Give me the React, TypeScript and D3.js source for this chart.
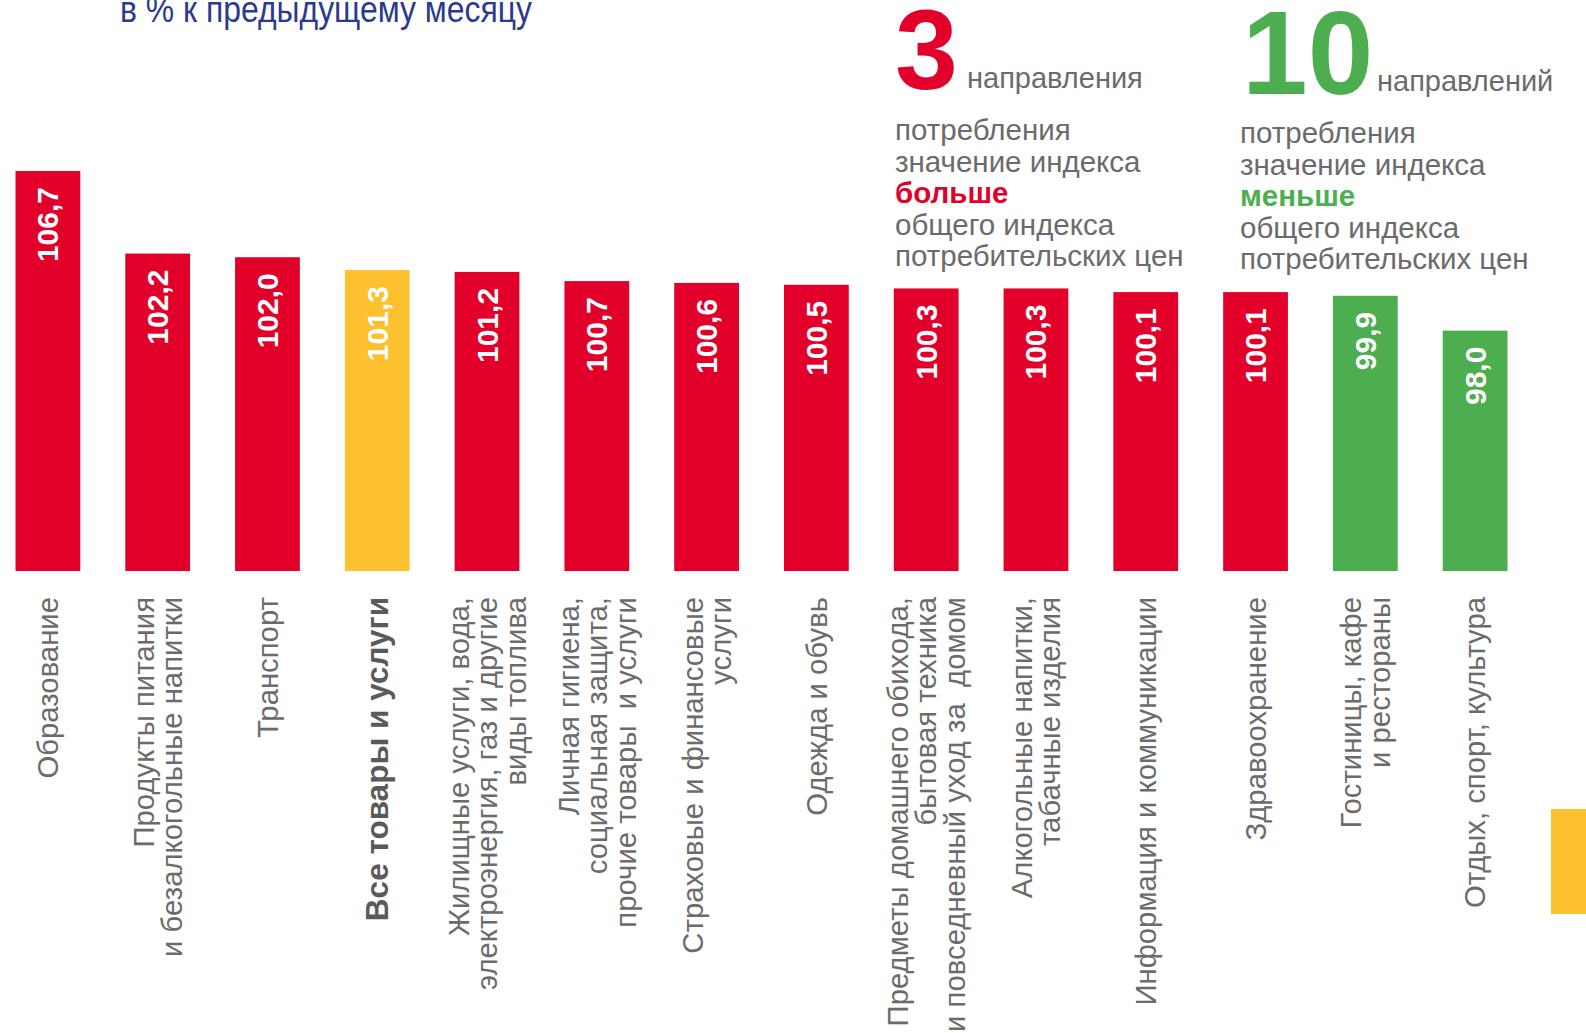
import React, { useEffect, useRef } from 'react';
import * as d3 from 'd3';

// категории (строки подписей), значения индекса и тип столбца
const categories = [
  ['Образование'],
  ['Продукты питания', 'и безалкогольные напитки'],
  ['Транспорт'],
  ['Все товары и услуги'],
  ['Жилищные услуги, вода,', 'электроэнергия, газ и другие', 'виды топлива'],
  ['Личная гигиена,', 'социальная защита,', 'прочие товары  и услуги'],
  ['Страховые и финансовые', 'услуги'],
  ['Одежда и обувь'],
  ['Предметы домашнего обихода,', 'бытовая техника', 'и повседневный уход за  домом'],
  ['Алкогольные напитки,', 'табачные изделия'],
  ['Информация и коммуникации'],
  ['Здравоохранение'],
  ['Гостиницы, кафе', 'и рестораны'],
  ['Отдых, спорт, культура'],
];
const values = [106.7, 102.2, 102.0, 101.3, 101.2, 100.7, 100.6, 100.5, 100.3, 100.3, 100.1, 100.1, 99.9, 98.0];
const kinds = ['up', 'up', 'up', 'total', 'up', 'up', 'up', 'up', 'up', 'up', 'up', 'up', 'down', 'down'];

const colors = { up: '#E2002B', total: '#FDC02E', down: '#4DAE50' };
const FONT = '"Liberation Sans", Arial, sans-serif';
const GRAY = '#6b6b6b';

const W = 1586;
const H = 1033;

export default function App() {
  const svgRef = useRef<SVGSVGElement>(null);

  useEffect(() => {
    const svg = d3.select(svgRef.current);
    svg.selectAll('*').remove();

    const keys = categories.map((_, i) => String(i));
    const x = d3.scaleBand().domain(keys).range([-7, 1530]).paddingInner(0.41).paddingOuter(0.205);
    const y = d3.scaleLinear().domain([84.9, 106.7]).range([571, 171]);

    // столбцы
    svg.append('g')
      .selectAll('rect')
      .data(values)
      .enter()
      .append('rect')
      .attr('x', (d, i) => x(String(i)))
      .attr('y', d => y(d))
      .attr('width', x.bandwidth())
      .attr('height', d => y.range()[0] - y(d))
      .attr('fill', (d, i) => colors[kinds[i]]);

    // значения внутри столбцов
    svg.append('g')
      .selectAll('text')
      .data(values)
      .enter()
      .append('text')
      .attr('transform', (d, i) => `translate(${x(String(i)) + x.bandwidth() / 2},${y(d) + 16}) rotate(-90)`)
      .attr('dy', '0.35em')
      .attr('text-anchor', 'end')
      .style('font-family', FONT)
      .style('font-weight', 'bold')
      .style('font-size', '30px')
      .style('fill', '#fff')
      .text(d => d.toFixed(1).replace('.', ','));

    // подписи категорий
    const labels = svg.append('g')
      .selectAll('text')
      .data(categories)
      .enter()
      .append('text')
      .attr('transform', (d, i) => `translate(${x(String(i)) + x.bandwidth() / 2},597) rotate(-90)`)
      .attr('text-anchor', 'end')
      .style('font-family', FONT)
      .style('font-size', (d, i) => kinds[i] === 'total' ? '31.5px' : '29.3px')
      .style('font-weight', (d, i) => kinds[i] === 'total' ? 'bold' : 'normal')
      .style('fill', (d, i) => kinds[i] === 'total' ? '#5a5a5a' : GRAY)
      .style('white-space', 'pre');

    labels.each(function (lines) {
      const t = d3.select(this);
      const lh = 28.5;
      lines.forEach((line, j) => {
        t.append('tspan')
          .attr('x', 0)
          .attr('y', (j - (lines.length - 1) / 2) * lh)
          .attr('dy', '0.35em')
          .text(line);
      });
    });

    // заголовок
    svg.append('text')
      .attr('x', 120)
      .attr('y', 22)
      .attr('textLength', 412)
      .attr('lengthAdjust', 'spacingAndGlyphs')
      .style('font-family', '"Liberation Sans Narrow", ' + FONT)
      .style('font-size', '37px')
      .style('fill', '#2B3990')
      .text('в % к предыдущему месяцу');

    // блоки пояснений справа
    const blocks = [
      { num: '3', numX: 895, numY: 89, numSize: 113, word: 'направления', wordX: 967, wordY: 88, x: 895, y0: 140, key: 'больше', color: colors.up },
      { num: '10', numX: 1242, numY: 94, numSize: 118, word: 'направлений', wordX: 1377, wordY: 91, x: 1240, y0: 143, key: 'меньше', color: colors.down },
    ];
    const blockLines = ['потребления', 'значение индекса', null, 'общего индекса', 'потребительских цен'];

    blocks.forEach(b => {
      const g = svg.append('g');
      g.append('text')
        .attr('x', b.numX)
        .attr('y', b.numY)
        .style('font-family', FONT)
        .style('font-weight', 'bold')
        .style('font-size', `${b.numSize}px`)
        .style('fill', b.color)
        .text(b.num);
      g.append('text')
        .attr('x', b.wordX)
        .attr('y', b.wordY)
        .style('font-family', FONT)
        .style('font-size', '29px')
        .style('fill', GRAY)
        .text(b.word);
      blockLines.forEach((line, j) => {
        g.append('text')
          .attr('x', b.x)
          .attr('y', b.y0 + j * 31.5)
          .style('font-family', FONT)
          .style('font-size', '29.5px')
          .style('font-weight', line ? 'normal' : 'bold')
          .style('fill', line ? GRAY : b.color)
          .text(line || b.key);
      });
    });

    // жёлтый маркер у правого края
    svg.append('rect')
      .attr('x', 1551)
      .attr('y', 809)
      .attr('width', 35)
      .attr('height', 105)
      .attr('fill', colors.total);
  }, []);

  return (
    <div style={{ position: 'absolute', left: 0, top: 0, width: W, height: H, overflow: 'hidden', background: '#fff' }}>
      <svg ref={svgRef} width={W} height={H} style={{ display: 'block' }} />
    </div>
  );
}
